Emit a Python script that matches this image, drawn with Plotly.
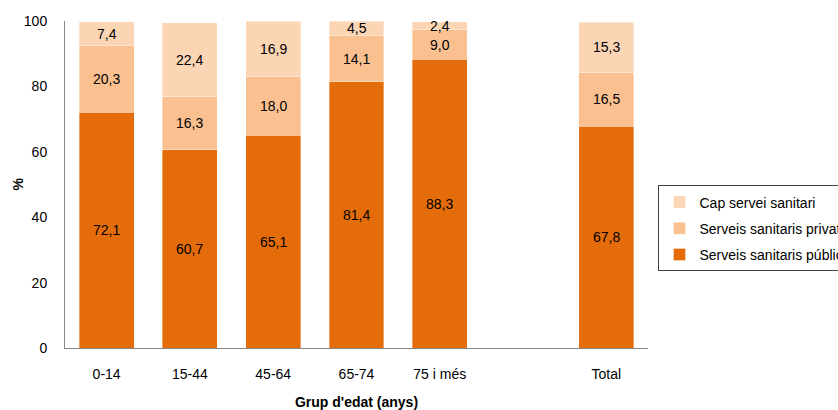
import plotly.graph_objects as go

categories = ["0-14", "15-44", "45-64", "65-74", "75 i més", " ", "Total"]
publics = [72.1, 60.7, 65.1, 81.4, 88.3, None, 67.8]
privats = [20.3, 16.3, 18.0, 14.1, 9.0, None, 16.5]
cap = [7.4, 22.4, 16.9, 4.5, 2.4, None, 15.3]

series = [
    ("Serveis sanitaris públics", publics, "#E46C0A"),
    ("Serveis sanitaris privats", privats, "#FAC090"),
    ("Cap servei sanitari", cap, "#FCD5B5"),
]

FONT = "Liberation Sans, Arial, sans-serif"
FS = 14

fig = go.Figure()
annotations = []
base = [0.0] * len(categories)
for i, (name, vals, color) in enumerate(series):
    fig.add_trace(go.Bar(
        x=categories, y=vals, name=name,
        marker=dict(color=color, line=dict(color="rgba(255,255,255,0.6)", width=0.6)),
        legendgroup=f"g{i}",
        legendrank=3 - i,
        width=0.66,
        hoverinfo="skip",
    ))
    for j, v in enumerate(vals):
        if v is None:
            continue
        mid = base[j] + v / 2
        annotations.append(dict(
            x=categories[j], y=mid, xref="x", yref="y",
            text=f"{v:.1f}".replace(".", ","), showarrow=False,
            font=dict(family=FONT, size=FS, color="#000000"),
        ))
        base[j] += v

# y-axis title
annotations.append(dict(
    x=0, y=0.5, xref="paper", yref="paper", xanchor="center", yanchor="middle",
    xshift=-48, textangle=-90, showarrow=False, text="<b>%</b>",
    font=dict(family=FONT, size=FS, color="#000000"),
))

fig.update_layout(
    barmode="stack",
    width=838, height=410,
    margin=dict(l=65, r=190, t=21, b=62, autoexpand=False),
    paper_bgcolor="white", plot_bgcolor="white",
    font=dict(family=FONT, size=FS, color="#000000"),
    annotations=annotations,
    showlegend=True,
    legend=dict(
        x=1.018, y=0.497, xanchor="left", yanchor="top",
        traceorder="grouped", tracegroupgap=5,
        bordercolor="#404040", borderwidth=1,
        font=dict(family=FONT, size=FS, color="#000000"),
        itemwidth=30,
    ),
)
fig.update_xaxes(
    type="category", categoryorder="array", categoryarray=categories,
    showline=True, linecolor="#868686", linewidth=1,
    ticks="", showgrid=False, zeroline=False,
    ticklabelstandoff=13,
    tickfont=dict(family=FONT, size=FS, color="#000000"),
    title=dict(text="<b>Grup d'edat (anys)</b>", standoff=16,
               font=dict(family=FONT, size=FS, color="#000000")),
)
fig.update_yaxes(
    range=[0, 100], tickvals=[0, 20, 40, 60, 80, 100],
    showline=True, linecolor="#868686", linewidth=1,
    ticks="", showgrid=False, zeroline=False,
    ticklabelstandoff=14,
    tickfont=dict(family=FONT, size=FS, color="#000000"),
)

fig.write_html("out.html", config={"displayModeBar": False},
               post_script="document.body.style.margin='0px';")
